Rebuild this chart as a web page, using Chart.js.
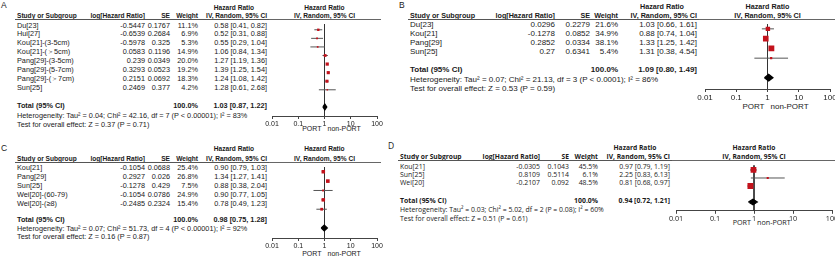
<!DOCTYPE html>
<html><head><meta charset="utf-8">
<script src="https://cdn.jsdelivr.net/npm/chart.js@4/dist/chart.umd.min.js"></script>
<style>
html,body{margin:0;padding:0;background:#fff}
body{position:relative;width:835px;height:260px;overflow:hidden;color:#1a1a1a}
.t{position:absolute;white-space:nowrap;line-height:1;transform:translateY(-50%)}
.c{transform:translate(-50%,-50%)}
.ln{position:absolute;height:0}
</style></head><body>
<script>
// ---------- DATA ----------
const xTickVals = [0.01, 0.1, 1, 10, 100];
const xTickLabels = ['0.01', '0.1', '1', '10', '100'];

const studiesA = ['Du[23]','Hui[27]','Kou[21]-(3-5cm)','Kou[21]-(＞5cm)','Pang[29]-(3-5cm)','Pang[29]-(5-7cm)','Pang[29]-(＞7cm)','Sun[25]'];
const logHrA = ['-0.5447','-0.6539','-0.5978','0.0583','0.239','0.3293','0.2151','0.2469'];
const seA = ['0.1767','0.2684','0.325','0.1196','0.0349','0.0523','0.0692','0.377'];
const weightA = [11.1, 6.9, 5.3, 14.9, 20.0, 19.2, 18.3, 4.2];
const hrA = [0.58, 0.52, 0.55, 1.06, 1.27, 1.39, 1.24, 1.28];
const loA = [0.41, 0.31, 0.29, 0.84, 1.19, 1.25, 1.08, 0.61];
const hiA = [0.82, 0.88, 1.04, 1.34, 1.36, 1.54, 1.42, 2.68];
const totalA = [1.03, 0.87, 1.22];
const hetA = 'Heterogeneity: Tau² = 0.04; Chi² = 42.16, df = 7 (P < 0.00001); I² = 83%';
const testA = 'Test for overall effect: Z = 0.37 (P = 0.71)';

const studiesB = ['Du[23]','Kou[21]','Pang[29]','Sun[25]'];
const logHrB = ['0.0296','-0.1278','0.2852','0.27'];
const seB = ['0.2279','0.0852','0.0334','0.6341'];
const weightB = [21.6, 34.9, 38.1, 5.4];
const hrB = [1.03, 0.88, 1.33, 1.31];
const loB = [0.66, 0.74, 1.25, 0.38];
const hiB = [1.61, 1.04, 1.42, 4.54];
const totalB = [1.09, 0.80, 1.49];
const hetB = 'Heterogeneity: Tau² = 0.07; Chi² = 21.13, df = 3 (P < 0.0001); I² = 86%';
const testB = 'Test for overall effect: Z = 0.53 (P = 0.59)';

const studiesC = ['Kou[21]','Pang[29]','Sun[25]','Wei[20]-(60-79)','Wei[20]-(≥8)'];
const logHrC = ['-0.1054','0.2927','-0.1278','-0.1054','-0.2485'];
const seC = ['0.0688','0.026','0.429','0.0786','0.2324'];
const weightC = [25.4, 26.8, 7.5, 24.9, 15.4];
const hrC = [0.90, 1.34, 0.88, 0.90, 0.78];
const loC = [0.79, 1.27, 0.38, 0.77, 0.49];
const hiC = [1.03, 1.41, 2.04, 1.05, 1.23];
const totalC = [0.98, 0.75, 1.28];
const hetC = 'Heterogeneity: Tau² = 0.07; Chi² = 51.73, df = 4 (P < 0.00001); I² = 92%';
const testC = 'Test for overall effect: Z = 0.16 (P = 0.87)';

const studiesD = ['Kou[21]','Sun[25]','Wei[20]'];
const logHrD = ['-0.0305','0.8109','-0.2107'];
const seD = ['0.1043','0.5114','0.092'];
const weightD = [45.5, 6.1, 48.5];
const hrD = [0.97, 2.25, 0.81];
const loD = [0.79, 0.83, 0.68];
const hiD = [1.19, 6.13, 0.97];
const totalD = [0.94, 0.72, 1.21];
const hetD = 'Heterogeneity: Tau² = 0.03; Chi² = 5.02, df = 2 (P = 0.08); I² = 60%';
const testD = 'Test for overall effect: Z = 0.51 (P = 0.61)';

// ---------- LAYOUT ----------
const SANS = '"Liberation Sans", Arial, sans-serif';
const OPEN = '"Open Sans", sans-serif';
const RED = '#c3121c';
const W = 835;

const layouts = {
  A: {font:SANS, fs:7.3, hfs:6.6, letter:[1,5], hrC:234, hdrY:7.5, colY:15.7, lineY:19.5, lineX:[15,381],
      cols:{name:17, log:145, se:170, w:198, hr:267}, tr0:25.5, ts:8.9, tTot:105.5, hetY:116, testY:125,
      pr0:25.5, ps:8.9, tick:[272,377], axisY:115, tickFs:7, portY:128, k:0.72, dh:3},
  B: {font:SANS, fs:8, hfs:7.2, letter:[399,5], hrC:662, hdrY:7, colY:16, lineY:19.5, lineX:[408,835],
      cols:{name:410, log:555, se:590, w:618, hr:697}, tr0:25, ts:9, tTot:70, hetY:80, testY:89,
      pr0:24.5, ps:10.4, tick:[705,830], axisY:88.5, tickFs:8, portY:107, k:0.95, dh:3.5},
  C: {font:SANS, fs:7.3, hfs:6.6, letter:[1,148], hrC:234, hdrY:149, colY:158.5, lineY:162.5, lineX:[15,381],
      cols:{name:17, log:145, se:170, w:198, hr:267}, tr0:168, ts:9, tTot:219.5, hetY:228.5, testY:237,
      pr0:167.5, ps:9.9, tick:[272,377], axisY:237.5, tickFs:7, portY:253, k:0.7, dh:3},
  D: {font:OPEN, fs:6.9, hfs:6.7, letter:[388,146], hrC:635, hdrY:147.5, colY:157, lineY:160.5, lineX:[398,835],
      cols:{name:400, log:540, se:569, w:598, hr:670}, tr0:166.5, ts:8.4, tTot:201, hetY:210, testY:219,
      pr0:165.7, ps:8.7, tick:[676,832], axisY:210, tickFs:7.2, portY:223, k:0.85, dh:3}
};

function txt(s, x, y, o) {
  const d = document.createElement('div');
  d.className = 't';
  d.textContent = s;
  d.style.top = y + 'px';
  d.style.fontSize = o.fs + 'px';
  d.style.fontFamily = o.font;
  if (o.bold) d.style.fontWeight = 'bold';
  if (o.align === 'right') d.style.right = (W - x) + 'px';
  else if (o.align === 'center') { d.style.left = x + 'px'; d.classList.add('c'); }
  else d.style.left = x + 'px';
  document.body.appendChild(d);
}
function hline(x1, x2, y, color, h) {
  const d = document.createElement('div');
  d.className = 'ln';
  d.style.cssText = `left:${x1}px;width:${x2-x1}px;top:${y - h/2}px;border-top:${h}px solid ${color}`;
  document.body.appendChild(d);
}

function panel(id, studies, logHr, se, weight, hr, lo, hi, total, het, test) {
  const c = layouts[id];
  const f = {fs:c.fs, font:c.font};
  const fb = {fs:c.fs, font:c.font, bold:true};
  const fh = {fs:c.hfs, font:c.font, bold:true};
  const n = studies.length;
  const rowY = i => c.tr0 + c.ts * i;
  const onePx = c.tick[0] + (c.tick[1]-c.tick[0]) * 0.5;
  const R = o => Object.assign({align:'right'}, o);
  const Cn = o => Object.assign({align:'center'}, o);

  txt(id, c.letter[0], c.letter[1], {fs:8.5, font:c.font});
  txt('Hazard Ratio', c.hrC, c.hdrY, Cn(fh));
  txt('Study or Subgroup', c.cols.name, c.colY, fh);
  txt('log[Hazard Ratio]', c.cols.log, c.colY, R(fh));
  txt('SE', c.cols.se, c.colY, R(fh));
  txt('Weight', c.cols.w, c.colY, R(fh));
  txt('IV, Random, 95% CI', c.cols.hr, c.colY, R(fh));
  txt('Hazard Ratio', onePx, c.hdrY, Cn(fh));
  txt('IV, Random, 95% CI', onePx, c.colY, Cn(fh));
  hline(c.lineX[0], c.cols.hr + 2, c.lineY, '#555', 1);
  hline(c.cols.hr + 2, c.lineX[1], c.lineY, '#666', 1.3);

  studies.forEach((s, i) => {
    const y = rowY(i);
    txt(s, c.cols.name, y, f);
    txt(logHr[i], c.cols.log, y, R(f));
    txt(se[i], c.cols.se, y, R(f));
    txt(weight[i].toFixed(1) + '%', c.cols.w, y, R(f));
    txt(hr[i].toFixed(2) + ' [' + lo[i].toFixed(2) + ', ' + hi[i].toFixed(2) + ']', c.cols.hr, y, R(f));
  });
  const ty = c.tTot;
  txt('Total (95% CI)', c.cols.name, ty, fb);
  txt('100.0%', c.cols.w, ty, R(fb));
  txt(total[0].toFixed(2) + ' [' + total[1].toFixed(2) + ', ' + total[2].toFixed(2) + ']', c.cols.hr, ty, R(fb));
  txt(het, c.cols.name, c.hetY, f);
  txt(test, c.cols.name, c.testY, f);
  txt('PORT', onePx - 3, c.portY, {fs:c.tickFs, font:c.font, align:'right'});
  txt('non-PORT', onePx + 3, c.portY, {fs:c.tickFs, font:c.font});

  // ---- chart ----
  const padX = 14, xAxisH = c.tickFs + 6;
  const width = c.tick[1] - c.tick[0] + 2*padX;
  const height = Math.round(c.axisY - c.lineY + xAxisH);
  const wrap = document.createElement('div');
  wrap.style.cssText = `position:absolute;left:${c.tick[0]-padX}px;top:${c.lineY}px;width:${width}px;height:${height}px`;
  const cv = document.createElement('canvas');
  cv.width = width; cv.height = height;
  cv.style.width = width + 'px'; cv.style.height = height + 'px';
  wrap.appendChild(cv);
  document.body.appendChild(wrap);

  const yMin = (c.lineY - c.pr0) / c.ps, yMax = (c.axisY - c.pr0) / c.ps;
  const tIdx = n + 1;
  const ci = [];
  hr.forEach((v, i) => { ci.push({x:lo[i], y:i}, {x:hi[i], y:i}, {x:v, y:null}); });
  const pts = hr.map((v, i) => ({x:v, y:i}));
  const radii = weight.map(v => c.k * Math.sqrt(v) / Math.SQRT2);
  const d = c.dh / c.ps;
  const dia = [{x:total[1], y:tIdx}, {x:total[0], y:tIdx - d}, {x:total[2], y:tIdx}, {x:total[0], y:tIdx + d}, {x:total[1], y:tIdx}];

  new Chart(cv, {
    type: 'scatter',
    data: {datasets: [
      {type:'scatter', data:pts, pointStyle:'rect', pointRadius:radii, pointBackgroundColor:RED, pointBorderWidth:0, borderWidth:0, order:0},
      {type:'line', data:dia, borderColor:'#000', backgroundColor:'#000', borderWidth:1.3, fill:'shape', pointRadius:0, tension:0, order:0},
      {type:'line', data:ci, borderColor:'#555', borderWidth:1, pointRadius:0, spanGaps:false, tension:0, order:1},
      {type:'line', data:[{x:1, y:yMin}, {x:1, y:yMax}], borderColor:'#333', borderWidth:1, pointRadius:0, order:2}
    ]},
    options: {
      responsive:false, animation:false, devicePixelRatio:1, events:[],
      layout:{padding:{left:padX, right:padX, top:0, bottom:0}},
      plugins:{legend:{display:false}, tooltip:{enabled:false}},
      scales:{
        x:{type:'logarithmic', min:0.01, max:100,
           afterBuildTicks:s => { s.ticks = xTickVals.map(v => ({value:v})); },
           afterFit:s => { s.height = xAxisH; },
           ticks:{autoSkip:false, maxRotation:0, padding:1, color:'#222',
                  font:{family:c.font, size:c.tickFs}, callback:(v, i) => xTickLabels[i]},
           grid:{drawOnChartArea:false, drawTicks:true, tickLength:3, color:'#444'},
           border:{display:true, color:'#444', width:1}},
        y:{type:'linear', display:false, reverse:true, min:yMin, max:yMax}
      }
    }
  });
}

panel('A', studiesA, logHrA, seA, weightA, hrA, loA, hiA, totalA, hetA, testA);
panel('B', studiesB, logHrB, seB, weightB, hrB, loB, hiB, totalB, hetB, testB);
panel('C', studiesC, logHrC, seC, weightC, hrC, loC, hiC, totalC, hetC, testC);
panel('D', studiesD, logHrD, seD, weightD, hrD, loD, hiD, totalD, hetD, testD);
</script>
</body></html>
